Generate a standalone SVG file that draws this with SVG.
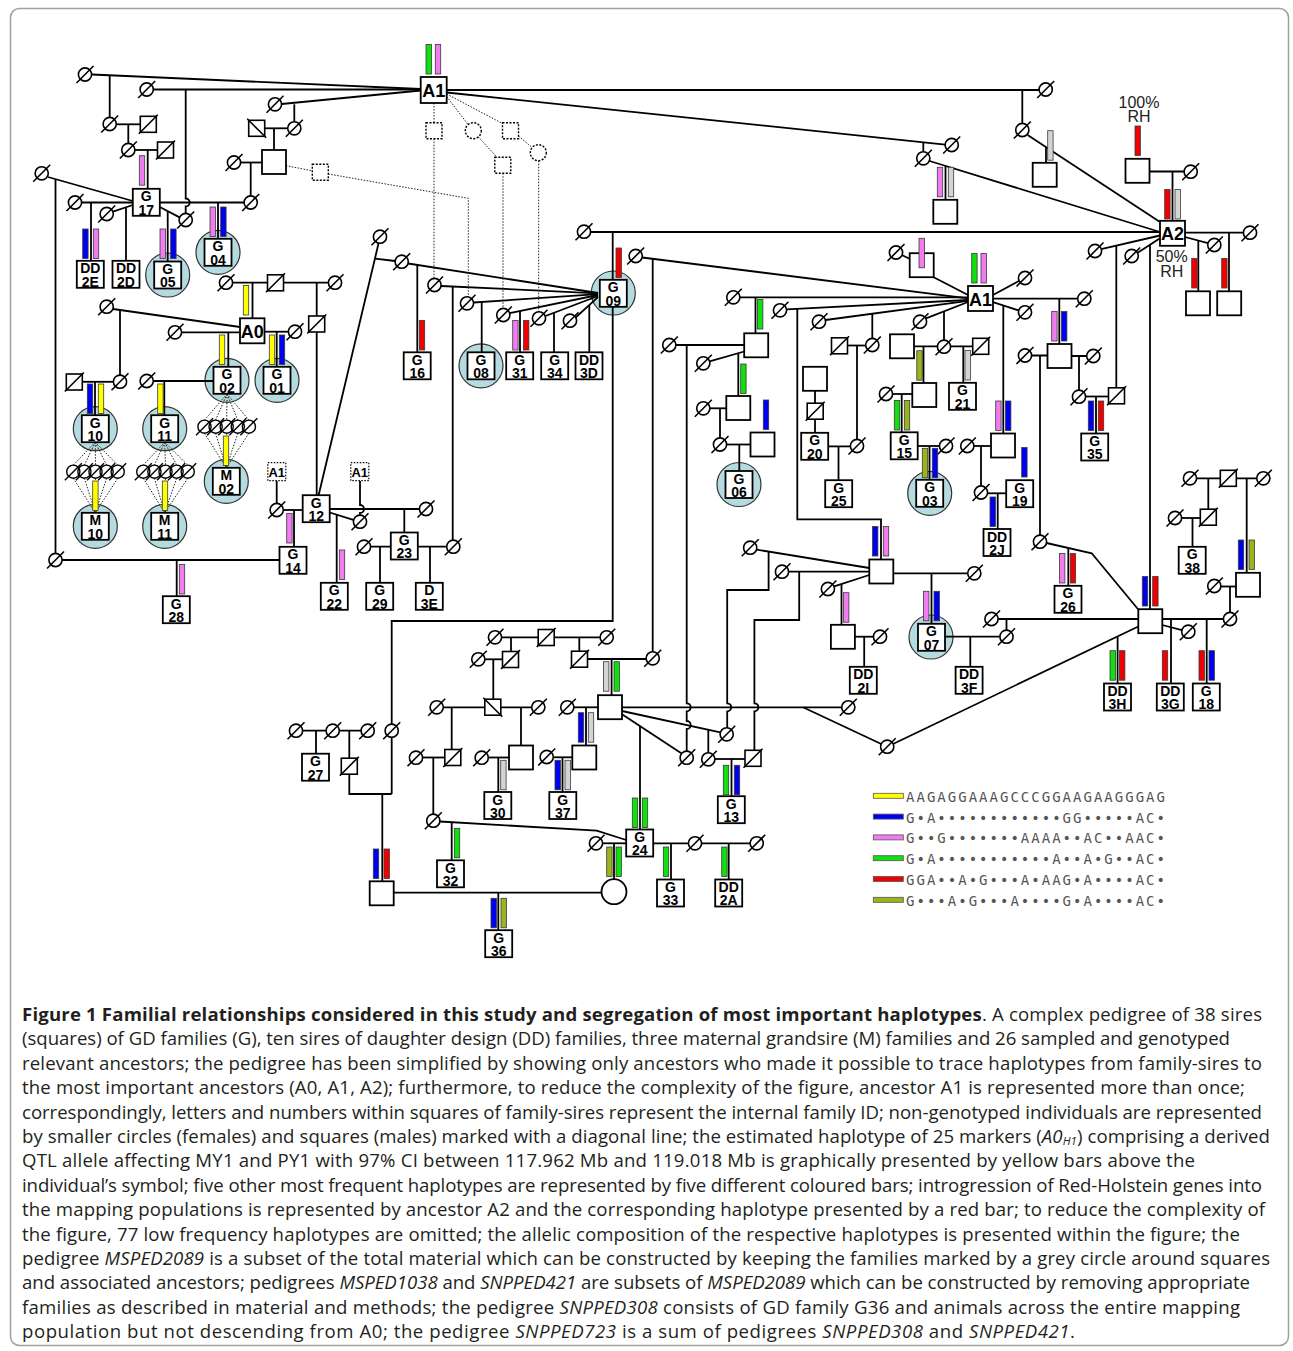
<svg xmlns="http://www.w3.org/2000/svg" xmlns:xlink="http://www.w3.org/1999/xlink" width="1293" height="1351" viewBox="0 0 1293 1351">
<defs>
<style>
.l path{fill:none;stroke:#000;stroke-width:1.8}
.d path{fill:none;stroke:#222;stroke-width:1;stroke-dasharray:1.5 1.5}
.t{font-family:"Liberation Sans",Arial,sans-serif;font-weight:bold;font-size:14px;text-anchor:middle;fill:#000}
.ta{font-size:18px}
.cap{font-family:"Open Sans","Liberation Sans",sans-serif;font-size:18.6px;fill:#231f20}
.lg{font-family:"DejaVu Sans Mono","Liberation Mono",monospace;font-size:14px;fill:#555}
</style>
<g id="f"><circle r="6.6" fill="#fff" stroke="#000" stroke-width="1.6"/><path d="M-8.5 8.5L8.5-8.5" stroke="#000" stroke-width="1.6"/></g>
<g id="fo"><circle r="6.6" fill="none" stroke="#000" stroke-width="1.4"/><path d="M-8.5 8.5L8.5-8.5" stroke="#000" stroke-width="1.4"/></g>
<g id="m"><rect x="-8" y="-8" width="16" height="16" fill="#fff" stroke="#000" stroke-width="1.6"/><path d="M-9.5 9.5L9.5-9.5" stroke="#000" stroke-width="1.6"/></g>
<g id="mr"><rect x="-8" y="-8" width="16" height="16" fill="#fff" stroke="#000" stroke-width="1.6"/><path d="M-9.5-9.5L9.5 9.5" stroke="#000" stroke-width="1.6"/></g>
<rect id="e" x="-12" y="-12" width="24" height="24" fill="#fff" stroke="#000" stroke-width="1.8"/>
<rect id="q" x="-13.5" y="-13.5" width="27" height="27" fill="#fff" stroke="#000" stroke-width="1.8"/>
<circle id="hc" r="22" fill="#b5dbe0" stroke="#333" stroke-width="1.2"/>
<rect id="b" width="5.4" height="29.5" stroke="#3a3a3a" stroke-width="0.8"/>
<rect id="ds" x="-8" y="-8" width="16" height="16" fill="#fff" stroke="#000" stroke-width="1.4" stroke-dasharray="2 1.5"/>
<circle id="dc" r="8" fill="#fff" stroke="#000" stroke-width="1.4" stroke-dasharray="2 1.5"/>
</defs>
<rect width="1293" height="1351" fill="#fff"/>
<rect x="10.5" y="8.5" width="1278" height="1337" rx="9" fill="#fff" stroke="#a0a0a0" stroke-width="1.5"/>

<g id="highlight-circles">
<use href="#hc" x="167.7" y="275"/><use href="#hc" x="218" y="252.3"/><use href="#hc" x="227" y="380.3"/><use href="#hc" x="277" y="380.3"/>
<use href="#hc" x="95.3" y="428.7"/><use href="#hc" x="164.7" y="428.7"/><use href="#hc" x="226.3" y="481.3"/><use href="#hc" x="95.3" y="526.3"/>
<use href="#hc" x="164.7" y="526.3"/><use href="#hc" x="481" y="365.8"/><use href="#hc" x="613.3" y="293"/><use href="#hc" x="739" y="484.5"/>
<use href="#hc" x="929.7" y="493.3"/><use href="#hc" x="931" y="637"/>
</g>

<g id="connectors">
<g class="l">
<path d="M92 74.5L420.7 89"/><path d="M153.3 89.5H420.7"/><path d="M281.6 104L420.7 90.5"/>
<path d="M109.7 75.3V117.4"/><path d="M185.7 89.5V198.5a4 4 0 0 1 0 8V213.4"/>
<path d="M116.3 124.3H140.3"/><path d="M128.3 124.3V143.4"/><path d="M134.9 150H157.5"/><path d="M147.7 150V188.8"/>
<path d="M294.3 104.3V121.7"/><path d="M264.7 128.3H287.7"/><path d="M274 128.3V150"/>
<path d="M240.6 162.5H262"/><path d="M250.7 162.5V195.9"/>
<path d="M48 177L132.8 201"/><path d="M55.5 179.2V553.4"/>
<path d="M81.6 202.5H132.8"/><path d="M91 202.5V260.8"/>
<path d="M113 211.6L132.8 205"/><path d="M126 207.4V260.8"/>
<path d="M159.8 202.5H244.1"/><path d="M218 202.5V238.8"/>
<path d="M159.8 207L179.6 217.4"/><path d="M167.7 211V261.5"/>
<path d="M232.6 282.7H267.5M283.5 282.7H328.4"/><path d="M252.5 282.7V318.3"/>
<path d="M316.7 282.7V316M316.7 332V495.2"/>
<path d="M113 309L240 327"/><path d="M120 310.8V375.1"/>
<path d="M181.6 332.3H240"/><path d="M228.3 332.3V366.8"/>
<path d="M264 331.7H288.4"/><path d="M276.7 331.7V366.8"/>
<path d="M82.3 381.8H113.4"/><path d="M95 381.8V415.2"/>
<path d="M153.3 381H213.5"/><path d="M164.3 381V415.2"/>
<path d="M378.6 243.2L318.6 495.2"/><path d="M375 258.6L395.2 261"/>
<path d="M408.1 263.5L598 293"/><path d="M417.3 264.9V352.3"/>
<path d="M283.3 510H302.7"/><path d="M294 510V546.8"/>
<path d="M329.7 509H419.4"/>
<path d="M329.7 512.5L353.3 519.8"/><path d="M336.7 514.6V582.8"/>
<path d="M404.3 509V532.5"/>
<path d="M370.6 546.7H390.8M380 546.7V582.8"/>
<path d="M417.8 546.7H446.7M430 546.7V582.8"/>
<path d="M62.1 560H279.5M176.7 560V596.2"/>
<path d="M276.7 480.7V503.4"/>
<path d="M360 480.7V505a4 4 0 0 1 0 8V515.1"/>
<path d="M441 286L598 293.3"/><path d="M473.5 302.5L598 294.2"/><path d="M509.7 313.2L598 295"/>
<path d="M545.5 316L598 296"/><path d="M575.6 317.5L598 297.2"/>
<path d="M452.7 286.5V540.1"/><path d="M481.7 302V352.3"/><path d="M520 311V352.3"/>
<path d="M554 312.8V352.3"/><path d="M589.3 305V352.3"/>
<path d="M590.6 232H1160"/><path d="M612.7 232V279.8"/>
<path d="M612.7 306.8V621H391.7V724.1"/>
<path d="M642.2 257.5L968 298.3"/><path d="M652.7 258.8V651.7"/>
<path d="M739.9 297.4H968"/><path d="M786.6 309.3L968 300"/><path d="M825.6 320L968 300.8"/>
<path d="M926 318.4L968 302"/><path d="M933.7 277.2L968 295"/><path d="M902.3 255.2L910 259"/>
<path d="M993 295L1018.8 281"/><path d="M993 298.7H1077.7"/><path d="M993 302.2L1018.6 310.4"/>
<path d="M1003.3 305.5V433.5"/><path d="M1059.3 298.7V344"/>
<path d="M755.5 297.4V333.3"/><path d="M797.3 308.8V519.3H881V559.5"/>
<path d="M872.3 313.7V338.4"/><path d="M944 311.4V340.1"/>
<path d="M446.7 90H1039.1"/><path d="M1022.3 90V123.4"/>
<path d="M1027.6 135L1160 222"/><path d="M1046 147.1V162.8"/>
<path d="M446.7 92.5L945.2 144.6"/><path d="M923.3 142.3V151.7"/>
<path d="M929.6 161L1160 232"/><path d="M945.5 165.9V199.8"/>
<path d="M1149.5 171.5H1184.1"/><path d="M1172.5 171.5V220.8"/>
<path d="M1101.2 249.2L1160 235.5"/><path d="M1137.7 252.8L1160 238.2"/>
<path d="M1116.3 245.6V388"/><path d="M1150 244.7V609.2"/>
<path d="M1185 232.7H1243.4"/><path d="M1185 237L1207.9 243.2"/>
<path d="M1198.3 240.6V291.3"/><path d="M1229 232.7V291.3"/>
<path d="M675.9 345H744.2"/>
<path d="M686.7 345V703.3a4 4 0 0 1 0 8V721a4 4 0 0 1 0 8V751.1"/>
<path d="M709.6 361.4L744.2 351.5"/><path d="M738.3 353.2V396"/>
<path d="M709.9 408.3H726.3"/><path d="M720 408.3V437.9"/>
<path d="M726.6 444.5H750.5"/><path d="M739.3 444.5V471"/>
<path d="M815 390.8V403.2M815 419.2V432.8"/>
<path d="M847.5 345.5H865.7"/><path d="M857 345.5V439.4"/>
<path d="M828.2 446.4H850.4"/><path d="M838.5 446.4V480.2"/>
<path d="M914 346.3H937.4M950.6 346.3H972.7"/>
<path d="M923.5 346.3V383"/><path d="M963.3 346.3V382.8"/>
<path d="M892.6 394H912.3"/><path d="M901.7 394V432.3"/>
<path d="M917.7 446H939.4"/><path d="M929.5 446V479.8"/>
<path d="M973.9 446H991"/><path d="M981 446V485.9"/>
<path d="M987.6 493.3H1006.2"/><path d="M997.7 493.3V529"/>
<path d="M1031.6 355.5H1047.5M1071.5 356H1086.7"/>
<path d="M1079 356V390.1"/><path d="M1040 355.5V535.1"/>
<path d="M1085.6 396.5H1108.5"/><path d="M1096 396.5V433.5"/>
<path d="M756.6 549.6L869.3 568"/><path d="M788.6 571.7H869.3"/><path d="M834.2 586.4L869.3 575"/>
<path d="M768.6 551.6V590H727.2V703.3a4 4 0 0 1 0 8V727.7"/>
<path d="M799.2 571.7V620H754.4V703.3a4 4 0 0 1 0 8V750.3"/>
<path d="M841.5 584V624.8"/>
<path d="M854.9 636.7H873.4"/><path d="M864.2 636.7V666.8"/>
<path d="M893.3 573.3H967.7"/><path d="M931.5 573.3V623.8"/>
<path d="M945 636.7H999.9"/><path d="M970.3 636.7V666.8"/>
<path d="M998.1 619H1138.3"/><path d="M1006.5 619V630.1"/>
<path d="M1046.5 543L1091.7 553.3L1138.3 609.5"/><path d="M1068.3 548V585.8"/>
<path d="M1162.3 619H1223.4"/><path d="M1171 619V683.5"/><path d="M1206.7 619V683.5"/>
<path d="M1162.3 625L1181.9 630.2"/>
<path d="M1138.3 626.5L893 744"/><path d="M1117.6 636.4V683.5"/>
<path d="M1196.6 478.3H1220.3M1236.3 478.3H1256.7"/><path d="M1208.3 478.3V509.2"/>
<path d="M1181.6 518H1200"/><path d="M1192.5 518V546.8"/>
<path d="M1246.7 478.3V572.8"/><path d="M1220.9 586.5H1236"/><path d="M1230 586.5V612.4"/>
<path d="M501.6 637.3H538.2M554.2 637.3H600.1"/>
<path d="M511 637.3V651.5"/><path d="M579.3 637.3V651.2"/>
<path d="M484.9 659.3H502.5"/><path d="M493.3 659.3V699.2"/>
<path d="M587.5 659H646.1"/><path d="M611.6 659V695.2"/>
<path d="M443.3 707.3H484.8M500.8 707.3H531.7"/>
<path d="M451.7 707.3V749.5"/><path d="M521 707.3V745.5"/>
<path d="M573.9 707.3H598"/><path d="M586 707.3V745.5"/>
<path d="M622 707.3H841.7"/><path d="M622 711L720.3 732.3"/><path d="M622 714.3L681.7 753.6"/>
<path d="M640 726V829.5"/><path d="M708.3 729.7V752.7"/>
<path d="M714.9 759H744.8"/><path d="M731.5 759V796.2"/>
<path d="M803 707.3L881.3 744"/>
<path d="M422.6 757.5H444.8"/><path d="M433.3 757.5V814.1"/>
<path d="M439.9 821.5L596.7 830.7L626.2 840"/><path d="M451.7 822.2V860.3"/>
<path d="M488.3 757.5H509"/><path d="M498.3 757.5V791.8"/>
<path d="M553.3 757.3H572.3"/><path d="M562.5 757.3V791.8"/>
<path d="M602.6 843.3H626.2"/><path d="M614 843.3V879.2"/>
<path d="M653.2 843.3H688.4M701.6 843.3H750.1"/>
<path d="M671 843.3V879.5"/><path d="M728.7 843.3V879.5"/>
<path d="M302.6 730.7H326.1M316 730.7V753.7"/>
<path d="M339.3 730.7H361.1M349.3 730.7V758.2"/>
<path d="M349.3 774.2V794H391.7M391.7 737.3V794"/>
<path d="M382.3 794V881.3"/><path d="M393.7 892.7H601.5"/><path d="M498.3 892.7V930.2"/>
</g>
<g class="d">
<path d="M434 103V122.7M434 138.7V278.4"/>
<path d="M446.7 96.5L468 124.5"/><path d="M446.7 94L502.5 123.5"/>
<path d="M478.4 137L497 157.3"/><path d="M518.5 136L532.2 147.5"/>
<path d="M503 173.3V308.4"/><path d="M538.7 160.7V311.7"/>
<path d="M285.9 165.6L312.3 170.8M328.3 174L468.3 198.3V296.7"/>
<path d="M227 394L204.5 420.1M227 394L215.6 420.1M227 394L226.7 420.1M227 394L237.8 420.1M227 394L248.9 420.1"/>
<path d="M204.5 433.3L226.3 467.8M215.6 433.3L226.3 467.8M226.7 433.3L226.3 467.8M237.8 433.3L226.3 467.8M248.9 433.3L226.3 467.8"/>
<path d="M95.3 442.2L73.3 465.1M95.3 442.2L84.4 465.1M95.3 442.2L95.5 465.1M95.3 442.2L106.6 465.1M95.3 442.2L117.7 465.1"/>
<path d="M73.3 478.3L95.3 512.8M84.4 478.3L95.3 512.8M95.5 478.3L95.3 512.8M106.6 478.3L95.3 512.8M117.7 478.3L95.3 512.8"/>
<path d="M164.7 442.2L143.3 465.1M164.7 442.2L154.4 465.1M164.7 442.2L165.5 465.1M164.7 442.2L176.6 465.1M164.7 442.2L187.7 465.1"/>
<path d="M143.3 478.3L164.7 512.8M154.4 478.3L164.7 512.8M165.5 478.3L164.7 512.8M176.6 478.3L164.7 512.8M187.7 478.3L164.7 512.8"/>
</g>
</g>

<g id="females">
<use id="f1" href="#f" x="85" y="74.5"/><use id="f2" href="#f" x="146.7" y="89.5"/><use id="f3" href="#f" x="275" y="104.3"/><use id="f4" href="#f" x="294.3" y="128.3"/>
<use id="f5" href="#f" x="109.7" y="124"/><use id="f6" href="#f" x="128.3" y="150"/><use id="f7" href="#f" x="234" y="162.5"/><use id="f8" href="#f" x="250.7" y="202.5"/>
<use id="f9" href="#f" x="41.7" y="173.3"/><use id="f10" href="#f" x="75" y="202.5"/><use id="f11" href="#f" x="106.7" y="214"/><use id="f12" href="#f" x="185.7" y="220"/>
<use id="f13" href="#f" x="226" y="282.7"/><use id="f14" href="#f" x="335" y="282.7"/><use id="f15" href="#f" x="106.7" y="306.7"/><use id="f16" href="#f" x="175" y="332.3"/>
<use id="f17" href="#f" x="295" y="331.7"/><use id="f18" href="#f" x="120" y="381.7"/><use id="f19" href="#f" x="146.7" y="381"/>
<use id="f20" href="#f" x="380" y="236.7"/><use id="f21" href="#f" x="401.7" y="261.7"/><use id="f22" href="#f" x="434.5" y="285"/><use id="f23" href="#f" x="467" y="303.3"/>
<use id="f24" href="#f" x="503.3" y="315"/><use id="f25" href="#f" x="539" y="318.3"/><use id="f26" href="#f" x="570" y="320.7"/>
<use id="f27" href="#f" x="276.7" y="510"/><use id="f28" href="#f" x="360" y="521.7"/><use id="f29" href="#f" x="426" y="509"/><use id="f30" href="#f" x="364" y="546.7"/>
<use id="f31" href="#f" x="453.3" y="546.7"/><use id="f32" href="#f" x="55.5" y="560"/>
<use id="f33" href="#f" x="584" y="231.7"/><use id="f34" href="#f" x="635.7" y="256"/><use id="f35" href="#f" x="733.3" y="297.3"/><use id="f36" href="#f" x="780" y="310.3"/>
<use id="f37" href="#f" x="819" y="321.7"/><use id="f38" href="#f" x="920" y="321.7"/><use id="f39" href="#f" x="896" y="252.5"/>
<use id="f40" href="#f" x="1025" y="278"/><use id="f41" href="#f" x="1084.3" y="298.7"/><use id="f42" href="#f" x="1025" y="312.3"/><use id="f43" href="#f" x="1045.7" y="89.5"/>
<use id="f44" href="#f" x="1022.3" y="130"/><use id="f45" href="#f" x="951.7" y="145"/><use id="f46" href="#f" x="923.3" y="158.3"/>
<use id="f47" href="#f" x="1190.7" y="171.7"/><use id="f48" href="#f" x="1095" y="251"/><use id="f49" href="#f" x="1131.7" y="256"/><use id="f50" href="#f" x="1250" y="232.7"/><use id="f51" href="#f" x="1214.3" y="245"/>
<use id="f52" href="#f" x="669.3" y="345"/><use id="f53" href="#f" x="703.3" y="363.3"/><use id="f54" href="#f" x="703.3" y="408.3"/><use id="f55" href="#f" x="720" y="444.5"/>
<use id="f56" href="#f" x="872.3" y="345"/><use id="f57" href="#f" x="857" y="446"/><use id="f58" href="#f" x="944" y="346.7"/><use id="f59" href="#f" x="886" y="394"/>
<use id="f60" href="#f" x="946" y="446"/><use id="f61" href="#f" x="967.3" y="446"/><use id="f62" href="#f" x="981" y="492.5"/><use id="f63" href="#f" x="1025" y="355.5"/>
<use id="f64" href="#f" x="1093.3" y="356"/><use id="f65" href="#f" x="1079" y="396.7"/><use id="f66" href="#f" x="1040" y="541.7"/>
<use id="f67" href="#f" x="750.2" y="547.7"/><use id="f68" href="#f" x="782" y="571.7"/><use id="f69" href="#f" x="827.9" y="589"/><use id="f70" href="#f" x="880" y="636.7"/>
<use id="f71" href="#f" x="974.3" y="573.3"/><use id="f72" href="#f" x="1006.5" y="636.7"/><use id="f73" href="#f" x="991.5" y="619"/><use id="f74" href="#f" x="1230" y="619"/>
<use id="f75" href="#f" x="1188.3" y="631.7"/><use id="f76" href="#f" x="887.2" y="746.7"/><use id="f77" href="#f" x="1190" y="478.3"/><use id="f78" href="#f" x="1263.3" y="478.3"/>
<use id="f79" href="#f" x="1175" y="518"/><use id="f80" href="#f" x="1214.3" y="586"/>
<use id="f81" href="#f" x="495" y="637.3"/><use id="f82" href="#f" x="606.7" y="637.3"/><use id="f83" href="#f" x="478.3" y="659.3"/><use id="f84" href="#f" x="652.7" y="658.3"/>
<use id="f85" href="#f" x="436.7" y="707.3"/><use id="f86" href="#f" x="538.3" y="707.3"/><use id="f87" href="#f" x="567.3" y="707.3"/><use id="f88" href="#f" x="848.3" y="707.3"/>
<use id="f89" href="#f" x="726.7" y="734.3"/><use id="f90" href="#f" x="686.7" y="757.7"/><use id="f91" href="#f" x="708.3" y="759.3"/><use id="f92" href="#f" x="416" y="757.7"/>
<use id="f93" href="#f" x="433.3" y="820.7"/><use id="f94" href="#f" x="481.7" y="757.7"/><use id="f95" href="#f" x="546.7" y="757"/><use id="f96" href="#f" x="596" y="843.3"/>
<use id="f97" href="#f" x="695" y="843.3"/><use id="f98" href="#f" x="756.7" y="843.3"/>
<use id="f99" href="#f" x="296" y="730.7"/><use id="f100" href="#f" x="332.7" y="730.7"/><use id="f101" href="#f" x="367.7" y="730.7"/><use id="f102" href="#f" x="391.7" y="730.7"/>
<g id="daughters-G02"><use href="#fo" x="204.5" y="426.7"/><use href="#fo" x="215.6" y="426.7"/><use href="#fo" x="226.7" y="426.7"/><use href="#fo" x="237.8" y="426.7"/><use href="#fo" x="248.9" y="426.7"/></g>
<g id="daughters-G10"><use href="#fo" x="73.3" y="471.7"/><use href="#fo" x="84.4" y="471.7"/><use href="#fo" x="95.5" y="471.7"/><use href="#fo" x="106.6" y="471.7"/><use href="#fo" x="117.7" y="471.7"/></g>
<g id="daughters-G11"><use href="#fo" x="143.3" y="471.7"/><use href="#fo" x="154.4" y="471.7"/><use href="#fo" x="165.5" y="471.7"/><use href="#fo" x="176.6" y="471.7"/><use href="#fo" x="187.7" y="471.7"/></g>
<circle id="dam-G36" cx="614" cy="891.7" r="12.5" fill="#fff" stroke="#000" stroke-width="1.8"/>
</g>

<g id="males-ng">
<use id="m1" href="#mr" x="256.7" y="128.3"/><use id="m2" href="#m" x="148.3" y="124.3"/><use id="m3" href="#m" x="165.5" y="150"/><use id="m4" href="#m" x="275.5" y="282.8"/>
<use id="m5" href="#m" x="316.7" y="324"/><use id="m6" href="#m" x="74.3" y="382"/><use id="m7" href="#m" x="839.5" y="345.8"/><use id="m8" href="#m" x="815.2" y="411.2"/>
<use id="m9" href="#m" x="980.7" y="346.3"/><use id="m10" href="#m" x="1116.5" y="395.8"/><use id="m11" href="#m" x="1228.3" y="478.3"/><use id="m12" href="#m" x="1208.3" y="517.2"/>
<use id="m13" href="#m" x="546.2" y="637.5"/><use id="m14" href="#m" x="510.5" y="659.5"/><use id="m15" href="#m" x="579.5" y="659.2"/><use id="m16" href="#mr" x="492.8" y="707.2"/>
<use id="m17" href="#m" x="452.8" y="757.5"/><use id="m18" href="#m" x="753" y="758.3"/><use id="m19" href="#m" x="349.3" y="766.2"/>
</g>

<g id="males">
<use id="s1" href="#e" x="274" y="162"/><use id="s2" href="#e" x="921.7" y="265.2"/><use id="s3" href="#e" x="945.3" y="211.8"/><use id="s4" href="#e" x="1044.7" y="174.8"/>
<use id="s5" href="#e" x="1137.5" y="170.8"/><use id="s6" href="#e" x="1198" y="303.3"/><use id="s7" href="#e" x="1229.2" y="303.3"/><use id="s8" href="#e" x="756.2" y="345.3"/>
<use id="s9" href="#e" x="738.3" y="408"/><use id="s10" href="#e" x="762.5" y="444.5"/><use id="s11" href="#e" x="815" y="378.8"/><use id="s12" href="#e" x="902" y="346.3"/>
<use id="s13" href="#e" x="924.3" y="395"/><use id="s14" href="#e" x="1003" y="445.5"/><use id="s15" href="#e" x="1059.5" y="356"/><use id="s16" href="#e" x="881.3" y="571.5"/>
<use id="s17" href="#e" x="842.9" y="636.8"/><use id="s18" href="#e" x="1150.3" y="621.2"/><use id="s19" href="#e" x="1248" y="584.8"/><use id="s20" href="#e" x="610" y="707.2"/>
<use id="s21" href="#e" x="584.3" y="757.5"/><use id="s22" href="#e" x="521" y="757.5"/><use id="s23" href="#e" x="381.7" y="893.3"/>
</g>

<g id="dotted-ancestors">
<use href="#ds" x="434" y="130.7"/><use href="#ds" x="510.5" y="130.8"/><use href="#ds" x="502.8" y="165.3"/><use href="#ds" x="320.3" y="172.3"/>
<use href="#dc" x="473.3" y="130.7"/><use href="#dc" x="538.3" y="152.7"/>
<g id="A1-ref1"><rect x="267.8" y="462.7" width="18" height="18" fill="#fff" stroke="#000" stroke-width="1.2" stroke-dasharray="1.5 1.5"/><text class="t" x="276.8" y="477" style="font-size:13px">A1</text></g>
<g id="A1-ref2"><rect x="350.8" y="462.7" width="18" height="18" fill="#fff" stroke="#000" stroke-width="1.2" stroke-dasharray="1.5 1.5"/><text class="t" x="359.8" y="477" style="font-size:13px">A1</text></g>
</g>

<g id="ancestors">
<g id="A1"><rect x="420.7" y="77" width="26" height="26" fill="#fff" stroke="#000" stroke-width="1.8"/><text class="t ta" x="433.7" y="97">A1</text></g>
<g id="A1b"><rect x="968" y="286" width="25" height="25" fill="#fff" stroke="#000" stroke-width="1.8"/><text class="t ta" x="980.5" y="305.5">A1</text></g>
<g id="A2"><rect x="1160" y="220.8" width="25" height="25" fill="#fff" stroke="#000" stroke-width="1.8"/><text class="t ta" x="1172.5" y="240">A2</text></g>
<g id="A0"><rect x="240" y="318.3" width="24.5" height="25" fill="#fff" stroke="#000" stroke-width="1.8"/><text class="t ta" x="252.2" y="337.5">A0</text></g>
</g>

<g id="families">
<g id="G17"><use href="#q" x="146.3" y="202.3"/><text class="t" x="146.3" y="201.3">G<tspan x="146.3" dy="13.3">17</tspan></text></g>
<g id="DD2E"><use href="#q" x="90.3" y="274.3"/><text class="t" x="90.3" y="273.3">DD<tspan x="90.3" dy="13.3">2E</tspan></text></g>
<g id="DD2D"><use href="#q" x="126" y="274.3"/><text class="t" x="126" y="273.3">DD<tspan x="126" dy="13.3">2D</tspan></text></g>
<g id="G05"><use href="#q" x="167.7" y="275"/><text class="t" x="167.7" y="274">G<tspan x="167.7" dy="13.3">05</tspan></text></g>
<g id="G04"><use href="#q" x="218" y="252.3"/><text class="t" x="218" y="251.3">G<tspan x="218" dy="13.3">04</tspan></text></g>
<g id="G02"><use href="#q" x="227" y="380.3"/><text class="t" x="227" y="379.3">G<tspan x="227" dy="13.3">02</tspan></text></g>
<g id="G01"><use href="#q" x="277" y="380.3"/><text class="t" x="277" y="379.3">G<tspan x="277" dy="13.3">01</tspan></text></g>
<g id="G10"><use href="#q" x="95.3" y="428.7"/><text class="t" x="95.3" y="427.7">G<tspan x="95.3" dy="13.3">10</tspan></text></g>
<g id="G11"><use href="#q" x="164.7" y="428.7"/><text class="t" x="164.7" y="427.7">G<tspan x="164.7" dy="13.3">11</tspan></text></g>
<g id="M02"><use href="#q" x="226.3" y="481.3"/><text class="t" x="226.3" y="480.3">M<tspan x="226.3" dy="13.3">02</tspan></text></g>
<g id="M10"><use href="#q" x="95.3" y="526.3"/><text class="t" x="95.3" y="525.3">M<tspan x="95.3" dy="13.3">10</tspan></text></g>
<g id="M11"><use href="#q" x="164.7" y="526.3"/><text class="t" x="164.7" y="525.3">M<tspan x="164.7" dy="13.3">11</tspan></text></g>
<g id="G12"><use href="#q" x="316.2" y="508.7"/><text class="t" x="316.2" y="507.7">G<tspan x="316.2" dy="13.3">12</tspan></text></g>
<g id="G14"><use href="#q" x="293" y="560.3"/><text class="t" x="293" y="559.3">G<tspan x="293" dy="13.3">14</tspan></text></g>
<g id="G28"><use href="#q" x="176.3" y="609.7"/><text class="t" x="176.3" y="608.7">G<tspan x="176.3" dy="13.3">28</tspan></text></g>
<g id="G22"><use href="#q" x="334.3" y="596.3"/><text class="t" x="334.3" y="595.3">G<tspan x="334.3" dy="13.3">22</tspan></text></g>
<g id="G23"><use href="#q" x="404.3" y="546"/><text class="t" x="404.3" y="545">G<tspan x="404.3" dy="13.3">23</tspan></text></g>
<g id="G29"><use href="#q" x="379.7" y="596.3"/><text class="t" x="379.7" y="595.3">G<tspan x="379.7" dy="13.3">29</tspan></text></g>
<g id="D3E"><use href="#q" x="429.3" y="596.3"/><text class="t" x="429.3" y="595.3">D<tspan x="429.3" dy="13.3">3E</tspan></text></g>
<g id="G16"><use href="#q" x="417.2" y="365.8"/><text class="t" x="417.2" y="364.8">G<tspan x="417.2" dy="13.3">16</tspan></text></g>
<g id="G08"><use href="#q" x="481" y="365.8"/><text class="t" x="481" y="364.8">G<tspan x="481" dy="13.3">08</tspan></text></g>
<g id="G31"><use href="#q" x="519.7" y="365.8"/><text class="t" x="519.7" y="364.8">G<tspan x="519.7" dy="13.3">31</tspan></text></g>
<g id="G34"><use href="#q" x="554.7" y="365.8"/><text class="t" x="554.7" y="364.8">G<tspan x="554.7" dy="13.3">34</tspan></text></g>
<g id="DD3D"><use href="#q" x="589" y="365.8"/><text class="t" x="589" y="364.8">DD<tspan x="589" dy="13.3">3D</tspan></text></g>
<g id="G09"><use href="#q" x="613.3" y="293.3"/><text class="t" x="613.3" y="292.3">G<tspan x="613.3" dy="13.3">09</tspan></text></g>
<g id="G06"><use href="#q" x="739" y="484.5"/><text class="t" x="739" y="483.5">G<tspan x="739" dy="13.3">06</tspan></text></g>
<g id="G20"><use href="#q" x="814.7" y="446.3"/><text class="t" x="814.7" y="445.3">G<tspan x="814.7" dy="13.3">20</tspan></text></g>
<g id="G25"><use href="#q" x="838.7" y="493.7"/><text class="t" x="838.7" y="492.7">G<tspan x="838.7" dy="13.3">25</tspan></text></g>
<g id="G21"><use href="#q" x="962.5" y="396.3"/><text class="t" x="962.5" y="395.3">G<tspan x="962.5" dy="13.3">21</tspan></text></g>
<g id="G15"><use href="#q" x="904.2" y="445.8"/><text class="t" x="904.2" y="444.8">G<tspan x="904.2" dy="13.3">15</tspan></text></g>
<g id="G03"><use href="#q" x="929.7" y="493.3"/><text class="t" x="929.7" y="492.3">G<tspan x="929.7" dy="13.3">03</tspan></text></g>
<g id="G19"><use href="#q" x="1019.7" y="493.7"/><text class="t" x="1019.7" y="492.7">G<tspan x="1019.7" dy="13.3">19</tspan></text></g>
<g id="DD2J"><use href="#q" x="997" y="542.5"/><text class="t" x="997" y="541.5">DD<tspan x="997" dy="13.3">2J</tspan></text></g>
<g id="G35"><use href="#q" x="1094.7" y="447"/><text class="t" x="1094.7" y="446">G<tspan x="1094.7" dy="13.3">35</tspan></text></g>
<g id="G26"><use href="#q" x="1068" y="599.3"/><text class="t" x="1068" y="598.3">G<tspan x="1068" dy="13.3">26</tspan></text></g>
<g id="G38"><use href="#q" x="1192.2" y="560.3"/><text class="t" x="1192.2" y="559.3">G<tspan x="1192.2" dy="13.3">38</tspan></text></g>
<g id="G07"><use href="#q" x="931.5" y="637.3"/><text class="t" x="931.5" y="636.3">G<tspan x="931.5" dy="13.3">07</tspan></text></g>
<g id="DD2I"><use href="#q" x="863.3" y="680.3"/><text class="t" x="863.3" y="679.3">DD<tspan x="863.3" dy="13.3">2I</tspan></text></g>
<g id="DD3F"><use href="#q" x="969.1" y="680.3"/><text class="t" x="969.1" y="679.3">DD<tspan x="969.1" dy="13.3">3F</tspan></text></g>
<g id="DD3H"><use href="#q" x="1117.5" y="697"/><text class="t" x="1117.5" y="696">DD<tspan x="1117.5" dy="13.3">3H</tspan></text></g>
<g id="DD3G"><use href="#q" x="1170.3" y="697"/><text class="t" x="1170.3" y="696">DD<tspan x="1170.3" dy="13.3">3G</tspan></text></g>
<g id="G18"><use href="#q" x="1206.3" y="697"/><text class="t" x="1206.3" y="696">G<tspan x="1206.3" dy="13.3">18</tspan></text></g>
<g id="G27"><use href="#q" x="315.5" y="767.2"/><text class="t" x="315.5" y="766.2">G<tspan x="315.5" dy="13.3">27</tspan></text></g>
<g id="G30"><use href="#q" x="497.8" y="805.5"/><text class="t" x="497.8" y="804.5">G<tspan x="497.8" dy="13.3">30</tspan></text></g>
<g id="G37"><use href="#q" x="562.8" y="805.5"/><text class="t" x="562.8" y="804.5">G<tspan x="562.8" dy="13.3">37</tspan></text></g>
<g id="G13"><use href="#q" x="731.3" y="809.7"/><text class="t" x="731.3" y="808.7">G<tspan x="731.3" dy="13.3">13</tspan></text></g>
<g id="G32"><use href="#q" x="450.5" y="873.8"/><text class="t" x="450.5" y="872.8">G<tspan x="450.5" dy="13.3">32</tspan></text></g>
<g id="G24"><use href="#q" x="639.7" y="843"/><text class="t" x="639.7" y="842">G<tspan x="639.7" dy="13.3">24</tspan></text></g>
<g id="G33"><use href="#q" x="670.5" y="893"/><text class="t" x="670.5" y="892">G<tspan x="670.5" dy="13.3">33</tspan></text></g>
<g id="DD2A"><use href="#q" x="728.7" y="893"/><text class="t" x="728.7" y="892">DD<tspan x="728.7" dy="13.3">2A</tspan></text></g>
<g id="G36"><use href="#q" x="498.7" y="943.7"/><text class="t" x="498.7" y="942.7">G<tspan x="498.7" dy="13.3">36</tspan></text></g>
</g>

<g id="haplotype-bars">
<use href="#b" x="426" y="44.5" fill="#10e010"/><use href="#b" x="435.3" y="44.5" fill="#f07cf0"/>
<use href="#b" x="139.3" y="155.7" fill="#f07cf0"/>
<use href="#b" x="82.7" y="229" fill="#0000f0"/><use href="#b" x="93.3" y="229" fill="#f07cf0"/>
<use href="#b" x="160" y="229" fill="#f07cf0"/><use href="#b" x="170.7" y="229" fill="#0000f0"/>
<use href="#b" x="210" y="207" fill="#f07cf0"/><use href="#b" x="220.7" y="207" fill="#0000f0"/>
<use href="#b" x="243.3" y="285.5" fill="#ffff00"/>
<use href="#b" x="219.3" y="335" fill="#ffff00"/>
<use href="#b" x="269.3" y="335" fill="#ffff00"/><use href="#b" x="279.3" y="335" fill="#0000f0"/>
<use href="#b" x="87.3" y="384" fill="#0000f0"/><use href="#b" x="98.3" y="384" fill="#ffff00"/>
<use href="#b" x="157.7" y="384" fill="#ffff00"/>
<use href="#b" x="223.3" y="436" fill="#ffff00"/>
<use href="#b" x="92.7" y="481" fill="#ffff00"/>
<use href="#b" x="162.3" y="481" fill="#ffff00"/>
<use href="#b" x="286.7" y="513.5" fill="#f07cf0"/>
<use href="#b" x="179.3" y="564.5" fill="#f07cf0"/>
<use href="#b" x="339.3" y="550" fill="#f07cf0"/>
<use href="#b" x="419.3" y="320.5" fill="#f00000"/>
<use href="#b" x="512.7" y="320.5" fill="#f07cf0"/><use href="#b" x="523.5" y="320.5" fill="#f00000"/>
<use href="#b" x="616" y="248" fill="#f00000"/>
<use href="#b" x="919" y="238.3" fill="#f07cf0"/>
<use href="#b" x="971.7" y="253.5" fill="#10e010"/><use href="#b" x="981" y="253.5" fill="#f07cf0"/>
<use href="#b" x="937.3" y="167.3" fill="#f07cf0"/><use href="#b" x="948.3" y="167.3" fill="#d4d4d4"/>
<use href="#b" x="1047.7" y="130.7" fill="#d4d4d4"/>
<use href="#b" x="1135" y="126" fill="#f00000"/>
<use href="#b" x="1164.7" y="189.5" fill="#f00000"/><use href="#b" x="1175" y="189.5" fill="#d4d4d4"/>
<use href="#b" x="1191.7" y="258.5" fill="#f00000"/><use href="#b" x="1221.7" y="258.5" fill="#f00000"/>
<use href="#b" x="757.5" y="299.5" fill="#10e010"/>
<use href="#b" x="740.7" y="364" fill="#10e010"/>
<use href="#b" x="763.3" y="400" fill="#0000f0"/>
<use href="#b" x="916.8" y="350.7" fill="#9ab51c"/>
<use href="#b" x="965" y="350.5" fill="#d4d4d4"/>
<use href="#b" x="894.3" y="400.5" fill="#10e010"/><use href="#b" x="904.3" y="400.5" fill="#9ab51c"/>
<use href="#b" x="922.3" y="448.3" fill="#9ab51c"/><use href="#b" x="932.3" y="448.3" fill="#0000f0"/>
<use href="#b" x="995.7" y="401" fill="#f07cf0"/><use href="#b" x="1005.5" y="401" fill="#0000f0"/>
<use href="#b" x="1021.7" y="447.5" fill="#0000f0"/>
<use href="#b" x="990" y="497" fill="#0000f0"/>
<use href="#b" x="1051.7" y="311.5" fill="#f07cf0"/><use href="#b" x="1061.5" y="311.5" fill="#0000f0"/>
<use href="#b" x="1088.3" y="401" fill="#0000f0"/><use href="#b" x="1098.3" y="401" fill="#f00000"/>
<use href="#b" x="872.5" y="526.5" fill="#0000f0"/><use href="#b" x="883.3" y="526.5" fill="#f07cf0"/>
<use href="#b" x="843.5" y="592.7" fill="#f07cf0"/>
<use href="#b" x="923.5" y="591.3" fill="#f07cf0"/><use href="#b" x="934" y="591.3" fill="#0000f0"/>
<use href="#b" x="1059.5" y="553.5" fill="#f07cf0"/><use href="#b" x="1070.2" y="553.5" fill="#f00000"/>
<use href="#b" x="1142.3" y="576.5" fill="#0000f0"/><use href="#b" x="1152.7" y="576.5" fill="#f00000"/>
<use href="#b" x="1238.3" y="540" fill="#0000f0"/><use href="#b" x="1249" y="540" fill="#9ab51c"/>
<use href="#b" x="1110" y="650.7" fill="#10e010"/><use href="#b" x="1119.5" y="650.7" fill="#f00000"/>
<use href="#b" x="1162.3" y="650.7" fill="#f00000"/>
<use href="#b" x="1199" y="650.7" fill="#f00000"/><use href="#b" x="1209" y="650.7" fill="#0000f0"/>
<use href="#b" x="603.5" y="661.7" fill="#d4d4d4"/><use href="#b" x="614" y="661.7" fill="#10e010"/>
<use href="#b" x="578.3" y="712.7" fill="#0000f0"/><use href="#b" x="588.3" y="712.7" fill="#d4d4d4"/>
<use href="#b" x="555" y="760.3" fill="#0000f0"/><use href="#b" x="565" y="760.3" fill="#d4d4d4"/>
<use href="#b" x="500.7" y="760.3" fill="#d4d4d4"/>
<use href="#b" x="723.3" y="765.3" fill="#10e010"/><use href="#b" x="734.3" y="765.3" fill="#0000f0"/>
<use href="#b" x="632.3" y="798" fill="#10e010"/><use href="#b" x="642.3" y="798" fill="#10e010"/>
<use href="#b" x="454.3" y="828.3" fill="#10e010"/>
<use href="#b" x="606.7" y="847" fill="#9ab51c"/><use href="#b" x="616" y="847" fill="#10e010"/>
<use href="#b" x="663.3" y="847" fill="#10e010"/>
<use href="#b" x="721.7" y="847" fill="#10e010"/>
<use href="#b" x="373.3" y="849" fill="#0000f0"/><use href="#b" x="384" y="849" fill="#f00000"/>
<use href="#b" x="491" y="898.3" fill="#0000f0"/><use href="#b" x="501" y="898.3" fill="#9ab51c"/>
</g>

<g id="rh-labels" font-family="'Liberation Sans',Arial,sans-serif" font-size="16" fill="#222" text-anchor="middle">
<text x="1139" y="107.5">100%<tspan x="1139" dy="14.8">RH</tspan></text>
<text x="1171.7" y="262.3">50%<tspan x="1171.7" dy="14.4">RH</tspan></text>
</g>

<g id="legend">
<rect x="873.3" y="793.3" width="30" height="5" fill="#ffff00" stroke="#555" stroke-width="0.8"/>
<rect x="873.3" y="814.1" width="30" height="5" fill="#0000f0" stroke="#555" stroke-width="0.8"/>
<rect x="873.3" y="834.9" width="30" height="5" fill="#f07cf0" stroke="#555" stroke-width="0.8"/>
<rect x="873.3" y="855.7" width="30" height="5" fill="#10e010" stroke="#555" stroke-width="0.8"/>
<rect x="873.3" y="876.5" width="30" height="5" fill="#f00000" stroke="#555" stroke-width="0.8"/>
<rect x="873.3" y="897.3" width="30" height="5" fill="#9ab51c" stroke="#555" stroke-width="0.8"/>
<text class="lg" x="906" y="801.7" textLength="259" lengthAdjust="spacing">AAGAGGAAAGCCCGGAAGAAGGGAG</text>
<text class="lg" x="906" y="822.5" textLength="259" lengthAdjust="spacing">G•A••••••••••••GG•••••AC•</text>
<text class="lg" x="906" y="843.3" textLength="259" lengthAdjust="spacing">G••G•••••••AAAA••AC••AAC•</text>
<text class="lg" x="906" y="864.1" textLength="259" lengthAdjust="spacing">G•A•••••••••••A••A•G••AC•</text>
<text class="lg" x="906" y="884.9" textLength="259" lengthAdjust="spacing">GGA••A•G•••A•AAG•A••••AC•</text>
<text class="lg" x="906" y="905.7" textLength="259" lengthAdjust="spacing">G•••A•G•••A••••G•A••••AC•</text>
</g>

<g id="caption" class="cap">
<text x="22" y="1021" textLength="1240" lengthAdjust="spacing"><tspan font-weight="bold">Figure 1 Familial relationships considered in this study and segregation of most important haplotypes</tspan>. A complex pedigree of 38 sires</text>
<text x="22" y="1045.4" textLength="1208" lengthAdjust="spacing">(squares) of GD families (G), ten sires of daughter design (DD) families, three maternal grandsire (M) families and 26 sampled and genotyped</text>
<text x="22" y="1069.8" textLength="1240" lengthAdjust="spacing">relevant ancestors; the pedigree has been simplified by showing only ancestors who made it possible to trace haplotypes from family-sires to</text>
<text x="22" y="1094.2" textLength="1223" lengthAdjust="spacing">the most important ancestors (A0, A1, A2); furthermore, to reduce the complexity of the figure, ancestor A1 is represented more than once;</text>
<text x="22" y="1118.6" textLength="1240" lengthAdjust="spacing">correspondingly, letters and numbers within squares of family-sires represent the internal family ID; non-genotyped individuals are represented</text>
<text x="22" y="1143" textLength="1248" lengthAdjust="spacing">by smaller circles (females) and squares (males) marked with a diagonal line; the estimated haplotype of 25 markers (<tspan font-style="italic">A0</tspan><tspan font-style="italic" font-size="11.5" dy="2">H1</tspan><tspan dy="-2">) comprising a derived</tspan></text>
<text x="22" y="1167.4" textLength="1173" lengthAdjust="spacing">QTL allele affecting MY1 and PY1 with 97% CI between 117.962 Mb and 119.018 Mb is graphically presented by yellow bars above the</text>
<text x="22" y="1191.8" textLength="1240" lengthAdjust="spacing">individual’s symbol; five other most frequent haplotypes are represented by five different coloured bars; introgression of Red-Holstein genes into</text>
<text x="22" y="1216.2" textLength="1243" lengthAdjust="spacing">the mapping populations is represented by ancestor A2 and the corresponding haplotype presented by a red bar; to reduce the complexity of</text>
<text x="22" y="1240.6" textLength="1218" lengthAdjust="spacing">the figure, 77 low frequency haplotypes are omitted; the allelic composition of the respective haplotypes is presented within the figure; the</text>
<text x="22" y="1265" textLength="1248" lengthAdjust="spacing">pedigree <tspan font-style="italic">MSPED2089</tspan> is a subset of the total material which can be constructed by keeping the families marked by a grey circle around squares</text>
<text x="22" y="1289.4" textLength="1228" lengthAdjust="spacing">and associated ancestors; pedigrees <tspan font-style="italic">MSPED1038</tspan> and <tspan font-style="italic">SNPPED421</tspan> are subsets of <tspan font-style="italic">MSPED2089</tspan> which can be constructed by removing appropriate</text>
<text x="22" y="1313.8" textLength="1218" lengthAdjust="spacing">families as described in material and methods; the pedigree <tspan font-style="italic">SNPPED308</tspan> consists of GD family G36 and animals across the entire mapping</text>
<text x="22" y="1338.2" textLength="1053" lengthAdjust="spacing">population but not descending from A0; the pedigree <tspan font-style="italic">SNPPED723</tspan> is a sum of pedigrees <tspan font-style="italic">SNPPED308</tspan> and <tspan font-style="italic">SNPPED421</tspan>.</text>
</g>
</svg>
